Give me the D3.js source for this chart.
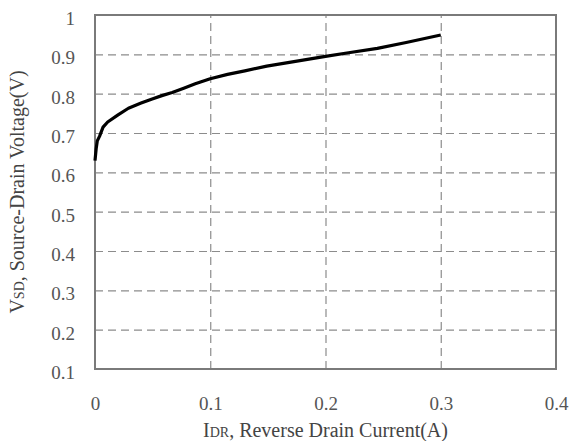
<!DOCTYPE html>
<html lang="en">
<head>
  <meta charset="UTF-8">
  <title>Source-Drain Voltage vs Reverse Drain Current</title>
  <script src="https://d3js.org/d3.v7.min.js"></script>
  <style>
    body { margin: 0; background: #fff; }
    svg { display: block; }
    .grid line { stroke: #8c8c8c; stroke-width: 1.2; stroke-dasharray: 8,5; }
    .grid path { display: none; }
    .axis-label { font-family: 'Liberation Serif', 'DejaVu Serif', serif; font-size: 20px; fill: #444; }
    .ticklbl { font-family: 'Liberation Serif', 'DejaVu Serif', serif; font-size: 19px; fill: #555; }
  </style>
</head>
<body>
  <svg width="571" height="441"></svg>
  <script>
    // reverse drain current (A)
    const current = [0, 0.001, 0.002, 0.004, 0.007, 0.011, 0.02, 0.029, 0.04, 0.049, 0.058, 0.067, 0.077, 0.087,
      0.1, 0.115, 0.13, 0.149, 0.17, 0.2, 0.22, 0.245, 0.27, 0.3];
    // source-drain voltage (V)
    const voltage = [0.63, 0.66, 0.68, 0.692, 0.715, 0.728, 0.746, 0.763, 0.776, 0.786, 0.795, 0.803, 0.814, 0.825,
      0.838, 0.849, 0.858, 0.87, 0.88, 0.895, 0.904, 0.915, 0.93, 0.949];
    const xTicks = [0, 0.1, 0.2, 0.3, 0.4];
    const yTicks = [0.1, 0.2, 0.3, 0.4, 0.5, 0.6, 0.7, 0.8, 0.9, 1];

    const svg = d3.select("svg"),
      margin = { top: 15, right: 15, bottom: 72, left: 95 },
      width = +svg.attr("width") - margin.left - margin.right,
      height = +svg.attr("height") - margin.top - margin.bottom;

    const g = svg.append("g").attr("transform", `translate(${margin.left},${margin.top})`);

    const x = d3.scaleLinear().domain([0, 0.4]).range([0, width]);
    const y = d3.scaleLinear().domain([0.1, 1]).range([height, 0]);

    const fmt = d => d3.format("")(+d.toFixed(1));

    // dashed grid
    g.append("g")
      .attr("class", "grid")
      .call(d3.axisLeft(y).tickValues(yTicks.slice(1, -1)).tickSize(-width).tickFormat(""));
    g.append("g")
      .attr("class", "grid")
      .attr("transform", `translate(0,${height})`)
      .call(d3.axisBottom(x).tickValues(xTicks.slice(1, -1)).tickSize(-height).tickFormat(""));

    // frame
    g.append("rect")
      .attr("width", width)
      .attr("height", height)
      .attr("fill", "none")
      .attr("stroke", "#7a7a7a")
      .attr("stroke-width", 2);

    // tick labels
    const yAxis = g.append("g")
      .call(d3.axisLeft(y).tickValues(yTicks).tickSize(0).tickPadding(20).tickFormat(fmt));
    yAxis.select(".domain").remove();
    yAxis.selectAll("text").attr("class", "ticklbl").attr("fill", null).attr("dy", "0.5em");

    const xAxis = g.append("g")
      .attr("transform", `translate(0,${height})`)
      .call(d3.axisBottom(x).tickValues(xTicks).tickSize(0).tickPadding(28).tickFormat(fmt));
    xAxis.select(".domain").remove();
    xAxis.selectAll("text").attr("class", "ticklbl").attr("fill", null);

    // curve
    const pts = current.map((c, i) => [c, voltage[i]]);
    g.append("path")
      .datum(pts)
      .attr("fill", "none")
      .attr("stroke", "#000")
      .attr("stroke-width", 3.2)
      .attr("stroke-linejoin", "round")
      .attr("d", d3.line().x(d => x(d[0])).y(d => y(d[1])));

    // axis labels
    const xl = svg.append("text")
      .attr("class", "axis-label")
      .attr("x", margin.left + x(0.2))
      .attr("y", 437)
      .attr("text-anchor", "middle");
    xl.append("tspan").text("I");
    xl.append("tspan").attr("font-size", "14px").text("DR");
    xl.append("tspan").text(", Reverse Drain Current(A)");

    const yl = svg.append("text")
      .attr("class", "axis-label")
      .attr("transform", "rotate(-90)")
      .attr("x", -192)
      .attr("y", 24)
      .attr("text-anchor", "middle");
    yl.append("tspan").text("V");
    yl.append("tspan").attr("font-size", "14px").text("SD");
    yl.append("tspan").text(", Source-Drain Voltage(V)");
  </script>
</body>
</html>
